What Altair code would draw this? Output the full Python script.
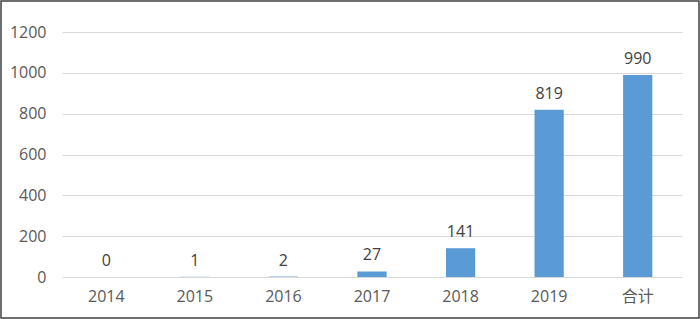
import altair as alt
import pandas as pd

categories = ["2014", "2015", "2016", "2017", "2018", "2019", "合计"]
values = [0, 1, 2, 27, 141, 819, 990]

df = pd.DataFrame({"cat": categories, "val": values})

W, H = 620, 245
FONT = "Open Sans, Noto Sans CJK SC"

base = alt.Chart(df).encode(
    x=alt.X("cat:N", sort=categories, title=None,
            scale=alt.Scale(paddingInner=0.67, paddingOuter=0.335),
            axis=alt.Axis(labelAngle=0, ticks=False, domain=False, grid=False, labelPadding=11,
                          labelFontSize=16, labelColor="#595959", labelFont=FONT)),
    y=alt.Y("val:Q", title=None,
            scale=alt.Scale(domain=[0, 1200], nice=False),
            axis=alt.Axis(values=[0, 200, 400, 600, 800, 1000, 1200], format="d", ticks=False,
                          domain=False, labelPadding=16, labelFontSize=16, labelColor="#595959",
                          labelFont=FONT, gridColor="#D9D9D9", gridWidth=1.2)),
)

bars = base.mark_bar(color="#5B9BD5")
labels = base.mark_text(baseline="bottom", dy=-8, fontSize=16, color="#404040", font=FONT).encode(
    text=alt.Text("val:Q")
)

border = alt.Chart(pd.DataFrame({"b": [0]})).mark_rect(
    fill="transparent", stroke="#404040", strokeWidth=1.5
).encode(
    x=alt.value(-61), x2=alt.value(W + 17), y=alt.value(-31), y2=alt.value(H + 41)
)

chart = (
    alt.layer(bars, labels, border)
    .properties(
        width=W, height=H,
        background="white",
        autosize=alt.AutoSizeParams(type="none"),
        padding={"left": 62, "top": 32, "right": 18, "bottom": 42},
    )
    .configure_view(stroke="transparent", strokeWidth=0)
    .configure_axisX(grid=False, domain=False)
    .configure_axisY(domain=False)
)

chart.save("out.html", embed_options={"renderer": "svg", "actions": False})
